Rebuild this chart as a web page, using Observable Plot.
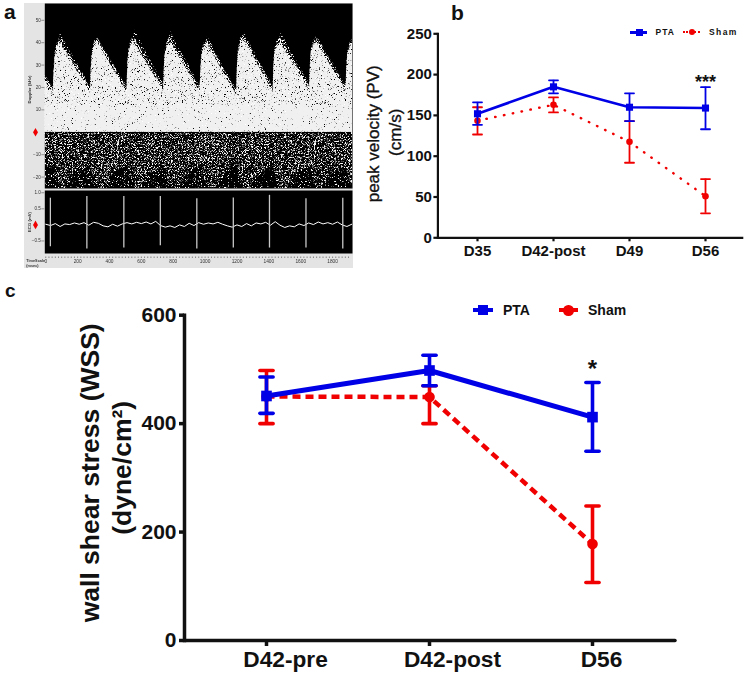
<!DOCTYPE html>
<html><head><meta charset="utf-8">
<script src="https://cdn.jsdelivr.net/npm/d3@7"></script>
<script src="https://cdn.jsdelivr.net/npm/@observablehq/plot@0.6"></script>
<style>
html,body{margin:0;padding:0;background:#fff;}
#page{position:relative;width:750px;height:674px;overflow:hidden;font-family:"Liberation Sans",Arial,sans-serif;}
#page>*{position:absolute;}
#page svg{overflow:visible;}
.letter{font-weight:bold;color:#111;line-height:1;}
.lg{font-weight:bold;color:#111;line-height:1;white-space:nowrap;}
</style></head>
<body>
<svg width="0" height="0" style="position:absolute"><defs id="fx"></defs></svg>
<div id="page">
  <div style="left:24px;top:3px;width:329px;height:265px;background:#e4e4e4"></div>
  <div class="letter" style="left:4px;top:1px;font-size:21px">a</div>
  <div class="letter" style="left:451px;top:2px;font-size:21px">b</div>
  <div class="letter" style="left:5px;top:281px;font-size:19px">c</div>

  <div style="left:630px;top:31px;width:17px;height:2.5px;background:#0000e6"></div>
  <div style="left:635.5px;top:28.5px;width:7px;height:7px;background:#0000e6"></div>
  <div class="lg" style="left:655.5px;top:27.5px;font-size:8.5px;letter-spacing:1px">PTA</div>
  <div style="left:683px;top:31px;width:17px;height:0;border-top:2.2px dotted #f00000"></div>
  <div style="left:688.5px;top:28.8px;width:6.6px;height:6.6px;border-radius:50%;background:#f00000"></div>
  <div class="lg" style="left:709px;top:27.5px;font-size:8.5px;letter-spacing:1.4px">Sham</div>

  <div style="left:473px;top:308px;width:20px;height:4px;background:#0000e6"></div>
  <div style="left:478px;top:305px;width:10px;height:10px;background:#0000e6"></div>
  <div class="lg" style="left:503px;top:303px;font-size:14px">PTA</div>
  <div style="left:559px;top:308px;width:19px;height:4px;background:#f00000"></div>
  <div style="left:563px;top:305px;width:10.5px;height:10.5px;border-radius:50%;background:#f00000"></div>
  <div class="lg" style="left:588px;top:303px;font-size:14px">Sham</div>
</div>
<script>
// ---------- panel a: Doppler envelope (time ms, frequency kHz)
const dopplerTime = [-6,48,52,58,72,92,281,285,292,305,325,510,514,522,535,556,740,744,751,765,784,969,973,980,994,1013,1198,1202,1209,1223,1244,1427,1431,1438,1452,1473,1656,1660,1667,1681,1700,1885,1889,1896,1910,1925];
const dopplerEdge = [23,17.1,26,33,38,39.4,17.8,27,34,38.5,40.1,17.8,28,35,39,40,18.6,28,35,39,40,17.8,27,34,38,39.4,16.3,27,35,40,41.6,17.8,28,35,39,40,18.6,28,35,39,40,18.6,28,35,38,39.4];
const fuzzTime = [-6,48,56,92,281,289,325,510,518,556,740,748,784,969,977,1013,1198,1206,1244,1427,1435,1473,1656,1664,1700,1885,1893,1925];
const fuzzEdge = [26,20,33,44,20.5,33,42,20.5,34,46,21.5,34,45,20.5,33,43,19,34,45,20.5,34,45,21.5,34,43,21.5,34,42];
const lowerTime = [-6,48,62,94,130,180,281,296,333,370,420,510,526,562,600,650,740,756,791,830,880,969,985,1021,1060,1110,1198,1214,1240,1280,1330,1427,1443,1479,1515,1565,1656,1672,1698,1735,1785,1885,1896,1925];
const lowerEdge = [-15,-15,-19,-25.1,-25.1,-19,-15,-19,-25.1,-25.1,-19,-15,-19,-25.1,-25.1,-19,-15,-19,-25.1,-25.1,-19,-15,-19,-25.1,-25.1,-19,-15,-19,-25.1,-25.1,-19,-15,-19,-25.1,-25.1,-19,-15,-19,-25.1,-25.1,-19,-15,-19,-25.1];
const coreLevel = [12,12];
const coreTime = [-6,1925];
const dopplerTicks = [50,40,30,20,10,-10,-20];
// ---------- panel a: ECG
const spikeTime = [29,258,490,719,948,1177,1404,1633,1864];
const spikeUp = [.83,.885,.885,.885,.81,.84,.92,.81,.83];
const spikeDown = [-.68,-.75,-.72,-.65,-.75,-.72,-.72,-.72,-.75];
const ecgBaseline = [.02,-.02,.04,-.05,.03,.01,.06,.02,.07,-.01,.08,.05,-.03,-.06,.02,-.04,.03,.07,.03,.08,.04,.09,.03,.11,-.02,-.07,-.03,-.08,.0,-.05,.05,-.02,.07,.02,.06,.03,.08,.02,-.03,-.07,.0,-.05,.04,-.03,.06,.03,.08,-.01,.1,-.01,-.08,-.03,-.06,.03,-.02,.06,.01,.09,.03,.07,.02,.09,.0,-.05,.02];
const ecgTicks = [1,.5,-.5];
const timeLabels = [0,200,400,600,800,1000,1200,1400,1600,1800];
const ecgStepMs = 30;
// ---------- panel b
const daysB = ["D35","D42-post","D49","D56"];
const ptaB = [152,185,160,159];
const ptaBLow = [138.5,177,143,133];
const ptaBHigh = [166,193,177,184.6];
const shamB = [143.5,163,117.6,51];
const shamBLow = [126.6,153.6,92,30];
const shamBHigh = [160,172,143,72];
// ---------- panel c
const daysC = ["D42-pre","D42-post","D56"];
const ptaC = [451,498,412];
const ptaCLow = [419,470,349];
const ptaCHigh = [486,526,476];
const shamC = [450,449,178];
const shamCLow = [400,400,107];
const shamCHigh = [498,470,248];

const BLUE="#0000e6", RED="#f00000";
const page=document.getElementById("page");
function speck(id,slope,c,seed){return `<filter id="${id}" x="0" y="0" width="100%" height="100%" color-interpolation-filters="sRGB"><feTurbulence type="fractalNoise" baseFrequency="1.3" numOctaves="2" seed="${seed}" result="n"/><feColorMatrix in="n" type="matrix" values="0 0 0 0 1 0 0 0 0 1 0 0 0 0 1 ${slope} 0 0 0 ${-c}" result="m"/><feComposite in="SourceGraphic" in2="m" operator="in"/></filter>`;}
document.getElementById("fx").innerHTML=speck("sBody",9,2.7,2)+speck("sCore",9,3.6,23)+speck("sFuzz",9,5.2,5)+speck("sFuzz2",9,4.2,8)+speck("sLow",6,3.2,11)+speck("sFaint",9,5.6,17);
function place(svg,left,top,soft){svg.style.left=left+"px";svg.style.top=top+"px";if(soft)svg.style.filter="blur(.42px)";page.appendChild(svg);return svg;}
const tiny={fontFamily:"Liberation Sans",background:"transparent",overflow:"visible"};
const xT={domain:[-6,1925],axis:null};

// Doppler
const envRows=dopplerTime.map((t,i)=>({t,v:dopplerEdge[i]}));
const fuzzRows=fuzzTime.map((t,i)=>({t,v:fuzzEdge[i]}));
const lowRows=lowerTime.map((t,i)=>({t,v:lowerEdge[i]}));
const coreRows=coreTime.map((t,i)=>({t,v:coreLevel[i]}));
const doppler=Plot.plot({width:329,height:185,marginLeft:20.3,marginRight:1,marginTop:0,marginBottom:0,style:tiny,
 x:xT,y:{domain:[-25.1,57.5],axis:null},
 marks:[
  Plot.frame({fill:"#000",stroke:null}),
  Plot.areaY(fuzzRows,{x:"t",y1:0,y2:"v",fill:"#fff"}),
  Plot.areaY(envRows,{x:"t",y1:0,y2:d=>d.v+2,fill:"#fff"}),
  Plot.areaY(envRows,{x:"t",y1:0,y2:"v",fill:"#f0f0f0"}),
  Plot.areaY(coreRows,{x:"t",y1:0,y2:"v",fill:"#f0f0f0"}),
  Plot.areaY(lowRows,{x:"t",y1:-25.1,y2:0,fill:"#fff"}),
  Plot.areaY(lowRows,{x:"t",y1:"v",y2:-.6,fill:"#f4f4f4"}),
  Plot.axisY({ticks:dopplerTicks,anchor:"left",label:null,tickSize:3,tickPadding:1,fontSize:4.6,stroke:"#555",strokeWidth:.6,fill:"#333"}),
  Plot.text(["Doppler (kHz)"],{frameAnchor:"left",textAnchor:"middle",rotate:-90,dx:-15.5,dy:-6.5,fontSize:4.3,fontWeight:"bold",fill:"#333"}),
  Plot.dot([0],{y:d=>d,frameAnchor:"left",dx:-9.3,symbol:"diamond",r:2.6,fill:"#f00000"})
 ]});
const fs=["sFuzz","sFuzz2","sBody","sCore","sFaint","sLow"];
doppler.querySelectorAll('g[aria-label="area"]').forEach((g,i)=>g.setAttribute("filter",`url(#${fs[i]})`));
place(doppler,24,3,true);

// ECG
const baseRows=ecgBaseline.map((v,i)=>({t:i*ecgStepMs,v}));
const spikeRows=spikeTime.map((t,i)=>({t,up:spikeUp[i],down:spikeDown[i]}));
place(Plot.plot({width:329,height:63,marginLeft:20.3,marginRight:1,marginTop:0,marginBottom:0,style:tiny,
 x:xT,y:{domain:[-.89,1.07],axis:null},
 marks:[
  Plot.frame({fill:"#000",stroke:null}),
  Plot.line(baseRows,{x:"t",y:"v",stroke:"#fff",strokeWidth:1}),
  Plot.ruleX(spikeRows,{x:"t",y1:"down",y2:"up",stroke:"#c8c8c8",strokeWidth:1.3}),
  Plot.axisY({ticks:ecgTicks,anchor:"left",label:null,tickSize:3,tickPadding:1,fontSize:4.6,stroke:"#555",strokeWidth:.6,fill:"#333",tickFormat:d3.format(".1f")}),
  Plot.text(["ECG (mV)"],{frameAnchor:"left",textAnchor:"middle",rotate:-90,dx:-15.5,dy:0,fontSize:4.3,fontWeight:"bold",fill:"#333"}),
  Plot.dot([0],{y:d=>d,frameAnchor:"left",dx:-9.3,symbol:"diamond",r:2.6,fill:"#f00000"})
 ]}),24,190,true);

// time strip
place(Plot.plot({width:329,height:13,marginLeft:20.3,marginRight:1,marginTop:2,marginBottom:0,style:tiny,
 x:{domain:[-6,1925],axis:null},y:{axis:null,domain:[0,1]},
 marks:[
  Plot.axisX({anchor:"top",label:null,ticks:d3.range(0,1920,20),tickSize:1.5,stroke:"#444",strokeWidth:.6,tickFormat:()=>""}),
  Plot.axisX({anchor:"bottom",label:null,ticks:timeLabels,tickSize:0,tickPadding:-9,fontSize:4.8,fill:"#333",stroke:"#444",tickFormat:d=>String(d)}),
  Plot.text(["TimeScale\n(msec)"],{frameAnchor:"left",dx:-18.5,dy:0,textAnchor:"start",fontSize:3.8,fontWeight:"bold",fill:"#333",lineHeight:1.15})
 ]}),24,255,true);

// shared series marks
const capSymbol={draw(c,size){const r=Math.sqrt(size/Math.PI);c.moveTo(-r,0);c.lineTo(r,0);}};
function series(rows,col,s){
 const {color,symbol,r,capR,lw,ew,dash,cap}=s;
 return [
  Plot.line(rows,{x:"day",y:col,stroke:color,strokeWidth:lw,strokeDasharray:dash,strokeLinecap:cap||"butt"}),
  Plot.ruleX(rows,{x:"day",y1:col+"Low",y2:col+"High",stroke:color,strokeWidth:ew}),
  Plot.dot(rows,{x:"day",y:col+"Low",symbol:capSymbol,r:capR,stroke:color,strokeWidth:ew,fill:"none",strokeLinecap:"round"}),
  Plot.dot(rows,{x:"day",y:col+"High",symbol:capSymbol,r:capR,stroke:color,strokeWidth:ew,fill:"none",strokeLinecap:"round"}),
  Plot.dot(rows,{x:"day",y:col,symbol,r,fill:color,stroke:null})
 ];
}
// panel b
const rowsB=daysB.map((day,i)=>({day,pta:ptaB[i],ptaLow:ptaBLow[i],ptaHigh:ptaBHigh[i],sham:shamB[i],shamLow:shamBLow[i],shamHigh:shamBHigh[i]}));
place(Plot.plot({width:390,height:270,marginLeft:77.4,marginRight:6,marginTop:33.3,marginBottom:32.7,
 style:{fontFamily:"Liberation Sans",fontWeight:"bold",fontSize:"15px",color:"#111",background:"transparent",overflow:"visible"},
 x:{type:"point",domain:daysB,padding:.5,axis:null},y:{domain:[0,250],axis:null},
 marks:[
  Plot.axisX({anchor:"bottom",tickSize:4,tickPadding:4,strokeWidth:2.2,stroke:"#111",fontSize:15,fontWeight:"bold",label:null}),
  Plot.axisY({anchor:"left",ticks:[0,50,100,150,200,250],tickSize:4,tickPadding:2,strokeWidth:2.2,stroke:"#111",fontSize:15,fontWeight:"bold",label:null}),
  Plot.frame({anchor:"left",stroke:"#111",strokeWidth:2.2}),
  Plot.frame({anchor:"bottom",stroke:"#111",strokeWidth:2.2,insetRight:2.3}),
  ...series(rowsB,"sham",{color:RED,symbol:"circle",r:3.3,capR:4.5,lw:2.4,ew:1.8,dash:"0.5 8.5",cap:"round"}),
  ...series(rowsB,"pta",{color:BLUE,symbol:"square",r:4,capR:4.5,lw:2.6,ew:1.8}),
  Plot.text(["D56"],{x:d=>d,y:[191],text:()=>"***",fontSize:18,fontWeight:"bold",fill:"#111",lineAnchor:"middle"}),
  Plot.text(["peak velocity (PV)"],{frameAnchor:"left",textAnchor:"middle",rotate:-90,dx:-64.5,dy:-2,fontSize:17,fontWeight:"normal",fill:"#111",stroke:"#111",strokeWidth:.35}),
  Plot.text(["(cm/s)"],{frameAnchor:"left",textAnchor:"middle",rotate:-90,dx:-42.5,dy:-3.5,fontSize:17,fontWeight:"normal",fill:"#111",stroke:"#111",strokeWidth:.35})
 ]}),360,0);

// panel c
const rowsC=daysC.map((day,i)=>({day,pta:ptaC[i],ptaLow:ptaCLow[i],ptaHigh:ptaCHigh[i],sham:shamC[i],shamLow:shamCLow[i],shamHigh:shamCHigh[i]}));
const xLabel=(d,dx)=>Plot.text([d],{x:d=>d,frameAnchor:"bottom",lineAnchor:"top",dy:10.5,dx,fontSize:22.7,fontWeight:"bold",fill:"#111"});
place(Plot.plot({width:750,height:394,marginLeft:184,marginRight:75.5,marginTop:34.7,marginBottom:34,
 style:{fontFamily:"Liberation Sans",fontWeight:"bold",color:"#111",background:"transparent",overflow:"visible"},
 x:{type:"point",domain:daysC,padding:.5,axis:null},y:{domain:[0,600],axis:null},
 marks:[
  Plot.axisX({anchor:"bottom",tickSize:6,strokeWidth:3.5,stroke:"#111",tickFormat:()=>"",label:null}),
  Plot.axisY({anchor:"left",ticks:[0,200,400,600],tickSize:5,tickPadding:3,strokeWidth:3.5,stroke:"#111",fontSize:21,fontWeight:"bold",label:null}),
  Plot.frame({anchor:"left",stroke:"#111",strokeWidth:3.5}),
  Plot.frame({anchor:"bottom",stroke:"#111",strokeWidth:3.5,strokeLinecap:"round"}),
  ...series(rowsC,"sham",{color:RED,symbol:"circle",r:5.3,capR:6.6,lw:4.5,ew:3.6,dash:"8 5"}),
  ...series(rowsC,"pta",{color:BLUE,symbol:"square",r:6,capR:6.6,lw:5,ew:3.6}),
  Plot.text(["D56"],{x:d=>d,y:[500],text:()=>"*",fontSize:24,fontWeight:"bold",fill:"#111",lineAnchor:"middle"}),
  xLabel("D42-pre",19),xLabel("D42-post",23),xLabel("D56",9),
  Plot.text(["wall shear stress (WSS)"],{frameAnchor:"left",textAnchor:"middle",rotate:-90,dx:-94,dy:-5,fontSize:26.5,fontWeight:"bold",fill:"#111"}),
  Plot.text(["(dyne/cm²)"],{frameAnchor:"left",textAnchor:"middle",rotate:-90,dx:-62,dy:-10,fontSize:26.5,fontWeight:"bold",fill:"#111"})
 ]}),0,280);
</script>
</body></html>
